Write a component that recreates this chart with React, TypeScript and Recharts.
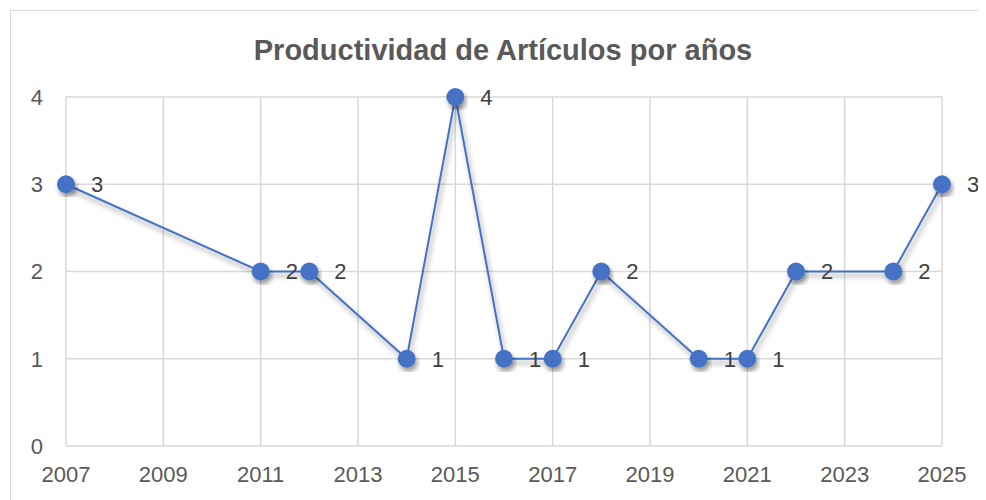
import React from "react";
import { LineChart, Line, XAxis, YAxis, CartesianGrid, LabelList } from "recharts";

const years = [2007, 2011, 2012, 2014, 2015, 2016, 2017, 2018, 2020, 2021, 2022, 2024, 2025];
const counts = [3, 2, 2, 1, 4, 1, 1, 2, 1, 1, 2, 2, 3];
const xTicks = [2007, 2009, 2011, 2013, 2015, 2017, 2019, 2021, 2023, 2025];
const yTicks = [0, 1, 2, 3, 4];
const title = "Productividad de Artículos por años";

const data = years.map((y, i) => ({ year: y, value: counts[i] }));

const FONT = "'Liberation Sans', Arial, sans-serif";
const BLUE = "#4472C4";

export default function App() {
  return (
    <div style={{ position: "relative", width: 978, height: 492 }}>
      <div
        style={{
          position: "absolute",
          left: 2,
          top: 2,
          width: 1000,
          height: 520,
          border: "1px solid #d9d9d9",
          boxSizing: "border-box",
        }}
      />
      <div
        style={{
          position: "absolute",
          left: 0,
          width: 990,
          top: 26,
          textAlign: "center",
          fontFamily: FONT,
          fontWeight: "bold",
          fontSize: 29,
          lineHeight: "normal",
          color: "#595959",
          whiteSpace: "nowrap",
        }}
      >
        {title}
      </div>
      <LineChart
        width={978}
        height={492}
        data={data}
        margin={{ top: 89, right: 44, bottom: 24, left: 18 }}
        style={{ position: "absolute", left: 0, top: 0 }}
      >
        <defs>
          <filter id="shadow" x="-20%" y="-20%" width="140%" height="140%">
            <feDropShadow dx="2" dy="4" stdDeviation="2.5" floodColor="#000" floodOpacity="0.4" />
          </filter>
        </defs>
        <CartesianGrid stroke="#d9d9d9" strokeWidth={1.5} />
        <XAxis
          dataKey="year"
          type="number"
          domain={[2007, 2025]}
          ticks={xTicks}
          interval={0}
          axisLine={false}
          tickLine={false}
          tickSize={0}
          tickMargin={20}
          height={30}
          tick={{ fill: "#595959", fontSize: 22, fontFamily: FONT }}
        />
        <YAxis
          domain={[0, 4]}
          ticks={yTicks}
          axisLine={false}
          tickLine={false}
          tickSize={0}
          tickMargin={23}
          width={40}
          tick={{ fill: "#595959", fontSize: 22, fontFamily: FONT }}
        />
        <Line
          dataKey="value"
          stroke={BLUE}
          strokeWidth={2}
          isAnimationActive={false}
          dot={{ r: 9, fill: BLUE, stroke: "none" }}
          activeDot={false}
          style={{ filter: "url(#shadow)" }}
        >
          <LabelList
            dataKey="value"
            position="right"
            offset={25}
            fill="#404040"
            fontSize={22}
            fontFamily={FONT}
          />
        </Line>
      </LineChart>
    </div>
  );
}
